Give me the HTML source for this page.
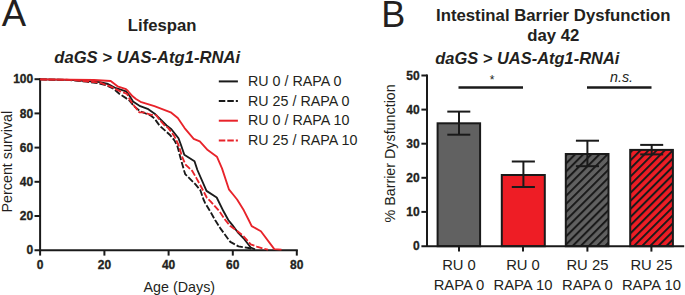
<!DOCTYPE html>
<html><head><meta charset="utf-8">
<style>
html,body{margin:0;padding:0;background:#fff;}
body{width:685px;height:295px;overflow:hidden;}
svg{display:block;}
text{font-family:"Liberation Sans",sans-serif;fill:#231f20;}
.b{font-weight:bold;}
.bi{font-weight:bold;font-style:italic;}
.tl{stroke:#231f20;stroke-width:0.3px;}
</style></head>
<body>
<svg width="685" height="295" viewBox="0 0 685 295">
<defs>
<pattern id="hg" patternUnits="userSpaceOnUse" x="-0.85" width="5.73" height="10" patternTransform="rotate(45)">
<rect x="0" y="0" width="5.73" height="10" fill="#616161"/>
<rect x="0" y="0" width="2" height="10" fill="#1a1a1a"/>
</pattern>
<pattern id="hr" patternUnits="userSpaceOnUse" x="2.4" width="5.73" height="10" patternTransform="rotate(45)">
<rect x="0" y="0" width="5.73" height="10" fill="#ee1d25"/>
<rect x="0" y="0" width="2" height="10" fill="#1a1a1a"/>
</pattern>
</defs>

<!-- ================= PANEL A ================= -->
<text x="1.8" y="26" font-size="36.5">A</text>
<text x="127.8" y="30.8" font-size="16.7" class="b">Lifespan</text>
<text x="54.3" y="63" font-size="16.6" class="bi">daGS &gt; UAS-Atg1-RNAi</text>

<g font-size="12" class="b tl" text-anchor="end">
<text x="33.2" y="83.3">100</text>
<text x="33.2" y="117.5">80</text>
<text x="33.2" y="151.7">60</text>
<text x="33.2" y="185.9">40</text>
<text x="33.2" y="220.1">20</text>
<text x="33.2" y="254.3">0</text>
</g>
<g font-size="12" class="b tl" text-anchor="middle">
<text x="40.2" y="268.6">0</text>
<text x="104.4" y="268.6">20</text>
<text x="168.6" y="268.6">40</text>
<text x="232.8" y="268.6">60</text>
<text x="296.8" y="268.6">80</text>
</g>
<text transform="translate(11.6,161.6) rotate(-90)" font-size="14.3" text-anchor="middle">Percent survival</text>
<text x="179.3" y="291.8" font-size="14.3" text-anchor="middle">Age (Days)</text>

<!-- axes -->
<g stroke="#1a1a1a" stroke-width="2" fill="none">
<line x1="40.1" y1="78.2" x2="40.1" y2="251.2"/>
<line x1="34.5" y1="250.2" x2="297.8" y2="250.2"/>
<line x1="34.5" y1="79.2" x2="40.1" y2="79.2"/>
<line x1="34.5" y1="113.4" x2="40.1" y2="113.4"/>
<line x1="34.5" y1="147.6" x2="40.1" y2="147.6"/>
<line x1="34.5" y1="181.8" x2="40.1" y2="181.8"/>
<line x1="34.5" y1="216" x2="40.1" y2="216"/>
<line x1="40.1" y1="250.2" x2="40.1" y2="255.6"/>
<line x1="104.4" y1="250.2" x2="104.4" y2="255.6"/>
<line x1="168.6" y1="250.2" x2="168.6" y2="255.6"/>
<line x1="232.8" y1="250.2" x2="232.8" y2="255.6"/>
<line x1="296.8" y1="250.2" x2="296.8" y2="255.6"/>
</g>
<!-- curves -->
<g fill="none" stroke-width="1.85" stroke-linejoin="round">
<polyline stroke="#1a1a1a" points="40.2,79.4 70,79.8 100,82.1 108,84 116,88.2 126,91.3 129.5,95.8 133,101.5 140.2,106.2 148.3,109.2 155.4,114.3 160.5,119.4 166.6,125.5 171.4,129.2 178.5,138.3 181,145 184.3,154.7 194.5,161.3 197.4,170 206.5,190.9 216.7,197.5 223.5,211.3 228.3,220 232.4,225.1 238.5,233.2 243.6,238.3 250.7,247.5 255,249.3"/>
<polyline stroke="#1a1a1a" stroke-dasharray="6.5 2" points="40.2,79.4 70,80 86.3,81.7 98.5,83.3 106.6,85.4 113.9,89 119.3,93.8 126.4,98.4 130,101.1 134,106.2 140.2,111.3 150.3,115.3 154.4,118.4 159.5,125.5 161.2,127.1 170.3,135.3 174.4,140.3 177.5,146.4 180.3,157.2 184.2,171 185.2,174.1 195.3,184.2 200.4,190.3 203.5,199.5 205.2,203.1 211.3,213.3 215.1,220 220.2,228.1 228.3,239.3 230.3,241.9 238.5,246.4 248.7,248 253,249.3"/>
<polyline stroke="#e8232a" points="40.2,79.4 70,79.6 94,80 110.7,81 117.5,86.3 126,89.2 128,91 132.6,96.3 136,99 140.5,101.8 154.4,106.2 170.7,112.3 177.8,117.9 184.6,128.1 193.7,138.8 199.8,141.4 207.7,150.1 216.9,156.7 222,168.4 228.9,189.3 233.5,195 237.1,199.5 243.8,210.3 248.7,220 251.7,226.1 260.9,231.2 274.3,249.1 281.5,249.6"/>
<polyline stroke="#e8232a" stroke-dasharray="6.5 2" points="40.2,79.4 70,79.8 100,82.6 112,87.2 120.3,91.3 127,93.8 129.5,98.9 132.6,104 136.1,108.2 139.2,112.3 143.2,112.3 151.4,114.8 156.4,115.3 158.5,118.4 164.6,125.5 168.3,128.1 174.4,136.3 178.5,145 182.3,157.2 185.3,164.3 192.3,171 196.4,178.1 201.4,187.3 207,198 210.3,201.1 219.4,211.3 225.3,220 230.3,226.1 237.5,231.2 243.6,236.3 250.7,244.4 256.8,246.6 263.5,248.8 268,249.6"/>
</g>

<!-- legend -->
<g stroke-width="2" fill="none">
<line x1="218.8" y1="81.4" x2="237.9" y2="81.4" stroke="#1a1a1a"/>
<line x1="218.8" y1="101" x2="237.9" y2="101" stroke="#1a1a1a" stroke-dasharray="6.5 2"/>
<line x1="218.8" y1="120.7" x2="237.9" y2="120.7" stroke="#e8232a"/>
<line x1="218.8" y1="140.4" x2="237.9" y2="140.4" stroke="#e8232a" stroke-dasharray="6.5 2"/>
</g>
<g font-size="14.3">
<text x="248" y="86.3">RU 0 / RAPA 0</text>
<text x="248" y="105.8">RU 25 / RAPA 0</text>
<text x="248" y="125.3">RU 0 / RAPA 10</text>
<text x="248" y="144.8">RU 25 / RAPA 10</text>
</g>

<!-- ================= PANEL B ================= -->
<text x="381.2" y="26.7" font-size="36">B</text>
<text x="553.3" y="21.2" font-size="16.75" class="b" text-anchor="middle">Intestinal Barrier Dysfunction</text>
<text x="553.3" y="40.8" font-size="16.75" class="b" text-anchor="middle">day 42</text>
<text x="435.3" y="63.8" font-size="16.45" class="bi">daGS &gt; UAS-Atg1-RNAi</text>

<text transform="translate(395.3,153.4) rotate(-90)" font-size="14.3" text-anchor="middle">% Barrier Dysfunction</text>

<!-- bars -->
<g stroke="#1a1a1a" stroke-width="2">
<rect x="437.6" y="123.3" width="42.5" height="122.9" fill="#616161"/>
<rect x="501.8" y="175" width="43" height="71.2" fill="#ee1d25"/>
<rect x="565.8" y="154" width="42.7" height="92.2" fill="url(#hg)"/>
<rect x="630.2" y="149.9" width="42.7" height="96.3" fill="url(#hr)"/>
</g>
<!-- error bars -->
<g stroke="#1a1a1a" stroke-width="2" fill="none">
<line x1="459" y1="111.6" x2="459" y2="134.7"/>
<line x1="447.3" y1="111.6" x2="470.3" y2="111.6"/>
<line x1="447.3" y1="134.7" x2="470.3" y2="134.7"/>
<line x1="523.4" y1="161.5" x2="523.4" y2="187"/>
<line x1="511.8" y1="161.5" x2="534.9" y2="161.5"/>
<line x1="511.8" y1="187" x2="534.9" y2="187"/>
<line x1="587.4" y1="140.7" x2="587.4" y2="166.2"/>
<line x1="575.9" y1="140.7" x2="599" y2="140.7"/>
<line x1="575.9" y1="166.2" x2="599" y2="166.2"/>
<line x1="651.7" y1="144.9" x2="651.7" y2="154.4"/>
<line x1="640.2" y1="144.9" x2="663.2" y2="144.9"/>
<line x1="640.2" y1="154.4" x2="663.2" y2="154.4"/>
</g>
<!-- axes B -->
<g stroke="#1a1a1a" stroke-width="2" fill="none">
<line x1="427" y1="74.5" x2="427" y2="247"/>
<line x1="421.4" y1="246.2" x2="684.2" y2="246.2"/>
<line x1="421.4" y1="75.5" x2="427" y2="75.5"/>
<line x1="421.4" y1="109.6" x2="427" y2="109.6"/>
<line x1="421.4" y1="143.7" x2="427" y2="143.7"/>
<line x1="421.4" y1="177.8" x2="427" y2="177.8"/>
<line x1="421.4" y1="211.9" x2="427" y2="211.9"/>
<line x1="459" y1="246.2" x2="459" y2="251.6"/>
<line x1="523" y1="246.2" x2="523" y2="251.6"/>
<line x1="587.4" y1="246.2" x2="587.4" y2="251.6"/>
<line x1="651.4" y1="246.2" x2="651.4" y2="251.6"/>
</g>
<g font-size="12" class="b tl" text-anchor="end">
<text x="419.7" y="79.7">50</text>
<text x="419.7" y="113.9">40</text>
<text x="419.7" y="148">30</text>
<text x="419.7" y="182.2">20</text>
<text x="419.7" y="216.3">10</text>
<text x="419.7" y="250.3">0</text>
</g>
<!-- significance -->
<g stroke="#1a1a1a" stroke-width="2.5">
<line x1="458.5" y1="87.6" x2="523" y2="87.6"/>
<line x1="587" y1="87.6" x2="651.5" y2="87.6"/>
</g>
<text x="492" y="84.4" font-size="12" text-anchor="middle">*</text>
<text x="610" y="81.8" font-size="14.3" font-style="italic">n.s.</text>

<g font-size="14.8" text-anchor="middle">
<text x="459" y="270.3">RU 0</text>
<text x="459" y="290.4">RAPA 0</text>
<text x="523" y="270.3">RU 0</text>
<text x="523" y="290.4">RAPA 10</text>
<text x="587.4" y="270.3">RU 25</text>
<text x="587.4" y="290.4">RAPA 0</text>
<text x="651.4" y="270.3">RU 25</text>
<text x="651.4" y="290.4">RAPA 10</text>
</g>
</svg>
</body></html>
